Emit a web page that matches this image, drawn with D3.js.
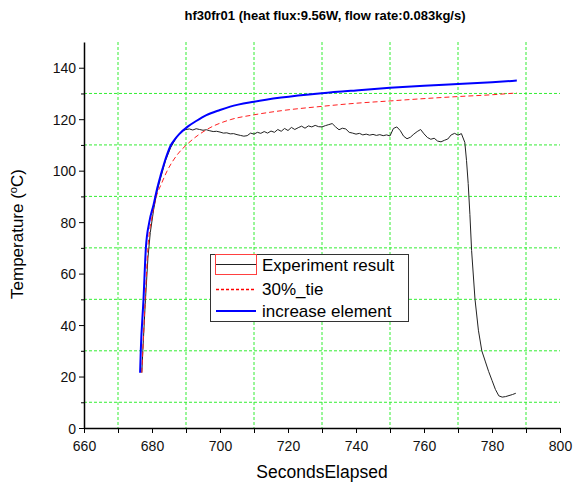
<!DOCTYPE html>
<html>
<head>
<meta charset="utf-8">
<script src="https://cdn.jsdelivr.net/npm/d3@7"></script>
<style>
  body { margin: 0; background: #fff; }
  text { font-family: "Liberation Sans", Arial, sans-serif; }
</style>
</head>
<body>
<div id="chart"></div>
<script>
// axis ticks
const xMajorTicks = [660, 680, 700, 720, 740, 760, 780, 800];
const xMinorTicks = [670, 690, 710, 730, 750, 770, 790];
const yMajorTicks = [0, 20, 40, 60, 80, 100, 120, 140];
const yMinorTicks = [10, 30, 50, 70, 90, 110, 130];

// Experiment result (black)
const expSeconds = [677, 677.3, 678, 678.8, 679.5, 680.5, 681.5, 682.5, 684, 685.5, 687, 688,
  689, 690, 691, 692, 693, 694, 695, 696, 697, 698, 699, 700, 701, 702, 703, 704, 705, 706, 707, 708, 709,
  710, 711, 712, 713, 714, 715, 716, 717, 718, 719, 720, 721, 722, 723, 724, 725, 726, 727, 728, 729,
  730, 731, 732, 733, 734, 735, 736, 737, 738, 739, 740, 741, 742, 743, 744, 745, 746, 747, 748, 749,
  750, 751, 752, 753, 754, 755, 756, 757, 758, 759, 760, 761, 762, 763, 764, 765, 766, 767, 768, 769,
  770, 771, 772, 772.5, 773, 773.5, 774, 775, 776, 777, 778, 779, 780, 781, 782, 783, 784, 785, 786, 787];
const expTemp = [21.5, 30, 48, 66, 76, 85, 92, 97, 104, 109, 112.5, 114.3,
  115.5, 116.0, 116.2, 115.8, 116.3, 116.0, 115.7, 115.9, 115.5, 115.2, 115.3, 115.0, 114.6, 114.7, 114.3, 114.4, 114.0, 113.7, 113.4, 113.6, 114.6,
  114.2, 114.9, 114.5, 115.2, 114.6, 115.4, 114.9, 116.0, 115.3, 116.4, 115.6, 116.8, 116.0, 116.7, 117.3, 116.5, 117.4, 117.0, 117.6, 117.1,
  117.0, 117.5, 117.9, 118.3, 117.0, 115.9, 116.5, 116.2, 114.9, 114.6, 114.2, 114.5, 113.9, 114.2, 113.8, 114.1, 113.7, 114.0, 113.6, 113.9,
  113.5, 116.4, 117.0, 115.6, 113.4, 112.4, 113.0, 114.2, 115.2, 116.0, 114.3, 112.9, 112.2, 112.6, 111.5, 111.2, 111.8, 112.3, 113.9, 114.5,
  113.8, 114.4, 111.0, 104, 95, 83, 69, 50, 38, 30, 26, 22, 18.5, 15, 12.5, 12, 12.2, 12.6, 13.0, 13.5];

// 30%_tie (red dashed)
const tieSeconds = [677, 677.3, 678, 678.8, 680, 681.3, 682.8, 684.3, 687.2, 690.7, 696, 703, 710, 718, 730, 740, 750, 760, 770, 780, 787.3];
const tieTemp = [21.5, 30, 50, 70, 82, 90, 95, 99.5, 105.8, 110.7, 115.9, 119.8, 121.7, 123.3, 125, 126.2, 127.1, 128, 128.8, 129.5, 130.2];

// increase element (blue)
const incSeconds = [676.5, 676.7, 677.5, 678.2, 679.2, 680.5, 681.5, 682.5, 683.5, 684.5, 685.5, 686.5, 688, 690.7, 693, 696, 700, 703, 710, 718, 730, 740, 750, 760, 770, 780, 787.3];
const incTemp = [21.5, 30, 50, 70, 80, 87, 93, 98, 102.5, 106.5, 109.8, 111.8, 114.2, 117.3, 119.3, 121.6, 123.6, 124.9, 126.8, 128.4, 130.1, 131.2, 132.2, 133, 133.7, 134.4, 135];

const W = 573, H = 484;
const margin = { top: 42, right: 13, bottom: 56, left: 84 };
const width = W - margin.left - margin.right;
const height = H - margin.top - margin.bottom;

const svg = d3.select("#chart").append("svg")
  .attr("width", W).attr("height", H)
  .style("background", "#fff");

const g = svg.append("g").attr("transform", `translate(${margin.left},${margin.top})`);

const x = d3.scaleLinear().domain([660, 800]).range([0, width]);
const y = d3.scaleLinear().domain([0, 150]).range([height, 0]);

// grid at minor positions
g.append("g").selectAll("line").data(xMinorTicks).enter().append("line")
  .attr("x1", d => x(d)).attr("x2", d => x(d))
  .attr("y1", 0).attr("y2", height)
  .attr("stroke", "#33ee33").attr("stroke-dasharray", "3,2");
g.append("g").selectAll("line").data(yMinorTicks).enter().append("line")
  .attr("x1", 0).attr("x2", width)
  .attr("y1", d => y(d)).attr("y2", d => y(d))
  .attr("stroke", "#33ee33").attr("stroke-dasharray", "3,2");

// lines
const mk = (xs, ys) => xs.map((v, i) => [v, ys[i]]);
const lineLin = d3.line().x(d => x(d[0])).y(d => y(d[1]));
const lineSmooth = d3.line().x(d => x(d[0])).y(d => y(d[1])).curve(d3.curveMonotoneX);

g.append("path").datum(mk(expSeconds, expTemp))
  .attr("d", lineLin).attr("fill", "none")
  .attr("stroke", "#222").attr("stroke-width", 1);

g.append("path").datum(mk(tieSeconds, tieTemp))
  .attr("d", lineSmooth).attr("fill", "none")
  .attr("stroke", "#ff2020").attr("stroke-width", 1)
  .attr("stroke-dasharray", "5,3");

g.append("path").datum(mk(incSeconds, incTemp))
  .attr("d", lineSmooth).attr("fill", "none")
  .attr("stroke", "#0000ff").attr("stroke-width", 2);

// axes
const xAxis = d3.axisBottom(x).tickValues(xMajorTicks).tickSize(5).tickSizeOuter(0).tickFormat(d3.format("d"));
const xAxisMinor = d3.axisBottom(x).tickValues(xMinorTicks).tickSize(5).tickFormat("");
const yAxis = d3.axisLeft(y).tickValues(yMajorTicks).tickSize(5).tickSizeOuter(0).tickFormat(d3.format("d"));
const yAxisMinor = d3.axisLeft(y).tickValues(yMinorTicks).tickSize(3).tickFormat("");

const gx = g.append("g").attr("transform", `translate(0,${height})`).call(xAxis);
g.append("g").attr("transform", `translate(0,${height})`).call(xAxisMinor).select(".domain").remove();
const gy = g.append("g").call(yAxis);
g.append("g").call(yAxisMinor).select(".domain").remove();

[gx, gy].forEach(a => {
  a.selectAll("text").style("font-size", "14px").attr("fill", "#111")
    .style("font-family", "'Liberation Sans', Arial, sans-serif");
  a.select(".domain").attr("stroke", "#000").attr("stroke-width", 1.5);
});
gx.selectAll("text").attr("dy", "1.05em");
gy.selectAll("text").attr("x", -8).attr("dy", "0.36em");
g.selectAll(".tick line").attr("stroke", "#000");

// title and axis labels
svg.append("text")
  .attr("x", 325).attr("y", 20)
  .attr("text-anchor", "middle")
  .style("font-size", "13px").style("font-weight", "bold")
  .text("hf30fr01 (heat flux:9.56W, flow rate:0.083kg/s)");

svg.append("text")
  .attr("x", 322).attr("y", 478)
  .attr("text-anchor", "middle")
  .style("font-size", "17.5px")
  .text("SecondsElapsed");

const yl = svg.append("text")
  .attr("transform", "translate(23,234) rotate(-90)")
  .attr("text-anchor", "middle")
  .style("font-size", "17px");
yl.append("tspan").text("Temperature (");
yl.append("tspan").attr("dy", "-6").style("font-size", "11px").text("o");
yl.append("tspan").attr("dy", "6").text("C)");

// legend
const lg = svg.append("g");
lg.append("rect").attr("x", 210.5).attr("y", 254.5).attr("width", 198).attr("height", 67)
  .attr("fill", "#fff").attr("stroke", "#333").attr("stroke-width", 1);
lg.append("rect").attr("x", 215.5).attr("y", 254.5).attr("width", 41).attr("height", 20)
  .attr("fill", "none").attr("stroke", "#ff4040").attr("stroke-width", 1);
lg.append("line").attr("x1", 216).attr("x2", 256).attr("y1", 264.5).attr("y2", 264.5)
  .attr("stroke", "#222").attr("stroke-width", 1);
lg.append("line").attr("x1", 216).attr("x2", 256).attr("y1", 289.5).attr("y2", 289.5)
  .attr("stroke", "#ff0000").attr("stroke-width", 1.5).attr("stroke-dasharray", "3,2");
lg.append("line").attr("x1", 216).attr("x2", 256).attr("y1", 311).attr("y2", 311)
  .attr("stroke", "#0000ff").attr("stroke-width", 2);
const legendLabels = ["Experiment result", "30%_tie", "increase element"];
const legendY = [270.5, 294.5, 316.5];
lg.selectAll("text.lab").data(legendLabels).enter().append("text")
  .attr("x", 262).attr("y", (d, i) => legendY[i])
  .style("font-size", "17px")
  .text(d => d);
</script>
</body>
</html>
